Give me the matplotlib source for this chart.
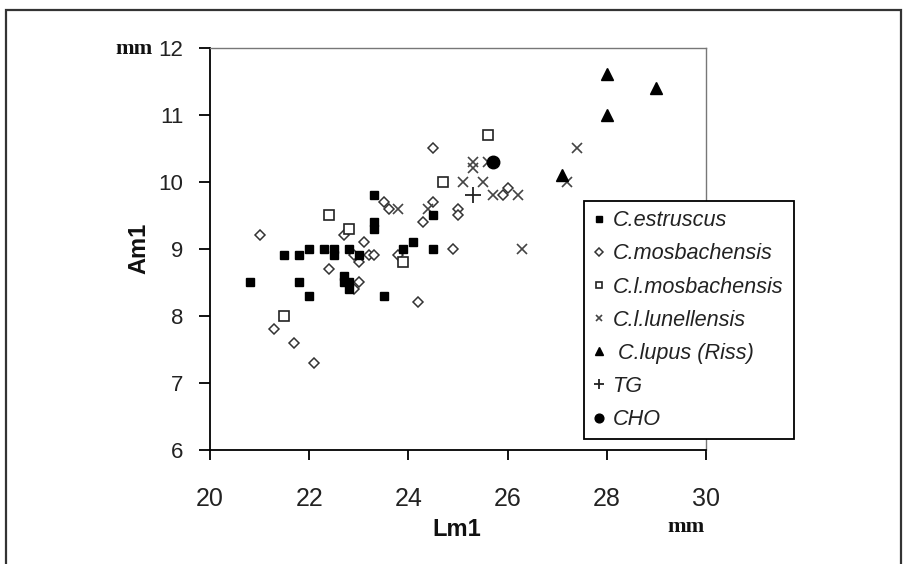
import matplotlib
matplotlib.use('Agg')
import matplotlib.pyplot as plt
from matplotlib.patches import Rectangle

plt.rcParams['font.family'] = ['Liberation Sans', 'DejaVu Sans']

# C.estruscus (filled squares)
estruscus_x = [20.8, 21.5, 21.8, 21.8, 22.0, 22.0, 22.3, 22.5, 22.5, 22.8, 23.0, 22.7,
               22.7, 22.8, 22.8, 23.3, 23.3, 23.3, 23.5, 23.9, 24.1, 24.5, 24.5]
estruscus_y = [8.5, 8.9, 8.9, 8.5, 9.0, 8.3, 9.0, 9.0, 8.9, 9.0, 8.9, 8.6,
               8.5, 8.5, 8.4, 9.8, 9.4, 9.3, 8.3, 9.0, 9.1, 9.5, 9.0]

# C.mosbachensis (open diamonds)
mosb_x = [21.0, 21.3, 21.7, 22.1, 22.4, 22.7, 22.9, 23.0, 23.1, 23.2, 23.3, 23.0, 22.9,
          23.5, 23.6, 23.8, 24.2, 24.3, 24.5, 24.5, 24.9, 25.0, 25.0, 25.9, 26.0]
mosb_y = [9.2, 7.8, 7.6, 7.3, 8.7, 9.2, 8.9, 8.8, 9.1, 8.9, 8.9, 8.5, 8.4,
          9.7, 9.6, 8.9, 8.2, 9.4, 9.7, 10.5, 9.0, 9.6, 9.5, 9.8, 9.9]

# C.l.mosbachensis (open squares)
lmosb_x = [21.5, 22.4, 22.8, 23.9, 24.7, 25.6]
lmosb_y = [8.0, 9.5, 9.3, 8.8, 10.0, 10.7]

# C.l.lunellensis (crosses)
lun_x = [23.8, 24.4, 25.1, 25.3, 25.3, 25.5, 25.6, 25.7, 26.2, 26.3, 27.2, 27.4]
lun_y = [9.6, 9.6, 10.0, 10.3, 10.2, 10.0, 10.3, 9.8, 9.8, 9.0, 10.0, 10.5]

# C.lupus (Riss) (triangles)
lupus_x = [27.1, 28.0, 28.0, 29.0]
lupus_y = [10.1, 11.0, 11.6, 11.4]

tg_x, tg_y = [25.3], [9.8]
cho_x, cho_y = [25.7], [10.3]

fig = plt.figure(figsize=(9.08, 5.64), dpi=100)
ax = fig.add_axes([210 / 908, 1 - 450 / 564, 496 / 908, 402.5 / 564])

ax.plot(estruscus_x, estruscus_y, 's', ms=5.5, color='black', mec='black',
        label='C.estruscus', zorder=3)
ax.plot(mosb_x, mosb_y, 'D', ms=5.2, mfc='white', mec='#333333', mew=1.1,
        label='C.mosbachensis', zorder=2)
ax.plot(lmosb_x, lmosb_y, 's', ms=7, mfc='white', mec='#222222', mew=1.2,
        label='C.l.mosbachensis', zorder=2)
ax.plot(lun_x, lun_y, 'x', ms=6.5, color='#444444', mew=1.2,
        label='C.l.lunellensis', zorder=2)
ax.plot(lupus_x, lupus_y, '^', ms=8, color='black', label=' C.lupus (Riss)', zorder=3)
ax.plot(tg_x, tg_y, '+', ms=11, color='#222222', mew=1.3, label='TG', zorder=3)
ax.plot(cho_x, cho_y, 'o', ms=9, color='black', label='CHO', zorder=4)

ax.set_xlim(20, 30)
ax.set_ylim(6, 12)
ax.set_xticks([20, 22, 24, 26, 28, 30])
ax.set_yticks([6, 7, 8, 9, 10, 11, 12])

for side in ['top', 'right']:
    ax.spines[side].set_color('#777777')
    ax.spines[side].set_linewidth(1.0)
for side in ['left', 'bottom']:
    ax.spines[side].set_color('black')
    ax.spines[side].set_linewidth(1.3)

ax.tick_params(axis='x', direction='out', length=7, width=1.3, pad=20,
               labelsize=18, labelcolor='#222222')
ax.tick_params(axis='y', direction='out', length=8, width=1.3, pad=11,
               labelsize=16, labelcolor='#222222')

fig.text(139 / 908, 1 - 248 / 564, 'Am1', rotation=90, ha='center', va='center',
         fontsize=17, fontweight='bold', color='#111111')
fig.text(457 / 908, 1 - 530 / 564, 'Lm1', ha='center', va='center',
         fontsize=17, fontweight='bold', color='#111111')
fig.text(153 / 908, 1 - 49 / 564, 'mm', ha='right', va='center',
         fontsize=16, fontweight='bold', family='Liberation Serif', color='#111111')
fig.text(686 / 908, 1 - 527 / 564, 'mm', ha='center', va='center',
         fontsize=16, fontweight='bold', family='Liberation Serif', color='#111111')

leg = ax.legend(loc='upper left', bbox_to_anchor=(573 / 908, 1 - 196 / 564, 232 / 908, 0.01),
                bbox_transform=fig.transFigure, mode='expand', fancybox=False,
                edgecolor='black', framealpha=1, markerscale=0.7, handlelength=0.6,
                handletextpad=0.3, borderpad=0.42, labelspacing=0.56,
                prop={'style': 'italic', 'size': 15.6})
leg.get_frame().set_linewidth(1.3)
for t in leg.get_texts():
    t.set_color('#222222')

fig.patches.append(Rectangle((6 / 908, -0.01), 895 / 908, 1.001 - 5 / 564,
                             transform=fig.transFigure, fill=False,
                             linewidth=1.6, edgecolor='#333333'))

fig.savefig('out.png', dpi=100)
